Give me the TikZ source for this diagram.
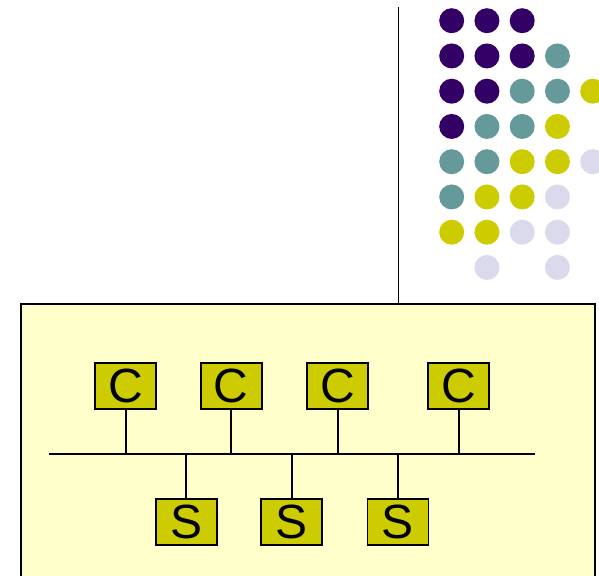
\documentclass[tikz,border=0pt]{standalone}
\usepackage{fontspec}
\setmainfont{Liberation Sans}
\definecolor{dpurple}{HTML}{330066}
\definecolor{dteal}{HTML}{669999}
\definecolor{dyellow}{HTML}{CCCC00}
\definecolor{dlav}{HTML}{DADAEC}
\definecolor{boxfill}{HTML}{FFFFCC}
\definecolor{nodefill}{HTML}{CCCC00}
\begin{document}
\begin{tikzpicture}[x=1pt,y=-1pt,
  unit/.style={draw=black,line width=1.8pt,fill=nodefill,minimum width=61pt,minimum height=46pt,inner sep=0pt,font=\fontsize{48}{48}\selectfont},
  wire/.style={line width=1.7pt},
  dot/.style={circle,inner sep=0pt,minimum size=25pt}]
\useasboundingbox (0,0) rectangle (599,575);
% frame
\node[draw=black,line width=1.8pt,fill=boxfill,minimum width=574pt,minimum height=274pt,inner sep=0pt,anchor=north west] (frame) at (20,303) {};
\coordinate (top) at (398.5,7);
\draw[wire] (top) -- (top |- frame.north);
% dots
\foreach \r/\row in {1/{1/dpurple,2/dpurple,3/dpurple},
                     2/{1/dpurple,2/dpurple,3/dpurple,4/dteal},
                     3/{1/dpurple,2/dpurple,3/dteal,4/dteal,5/dyellow},
                     4/{1/dpurple,2/dteal,3/dteal,4/dyellow},
                     5/{1/dteal,2/dteal,3/dyellow,4/dyellow,5/dlav},
                     6/{1/dteal,2/dyellow,3/dyellow,4/dlav},
                     7/{1/dyellow,2/dyellow,3/dlav,4/dlav},
                     8/{2/dlav,4/dlav}}{
  \foreach \i/\col in \row {
    \node[dot,fill=\col] (d\r\i) at ({451.7+35.25*(\i-1)},{20.7+35.25*(\r-1)}) {};
  }
}
% bus
\coordinate (busL) at (49,454.3);
\coordinate (busR) at (535,454.3);
\draw[wire] (busL) -- (busR);
% clients and servers
\node[unit] (c1) at (125.7,386) {C};
\node[unit] (c2) at (231.3,386) {C};
\node[unit] (c3) at (337.7,386) {C};
\node[unit] (c4) at (458.7,386) {C};
\node[unit] (s1) at (186.2,522.3) {S};
\node[unit] (s2) at (291.8,522.3) {S};
\node[unit] (s3) at (398,522.3) {S};
\foreach \n in {c1,c2,c3,c4,s1,s2,s3}{
  \draw[wire] (\n) -- (\n |- busL);
}
\end{tikzpicture}
\end{document}
